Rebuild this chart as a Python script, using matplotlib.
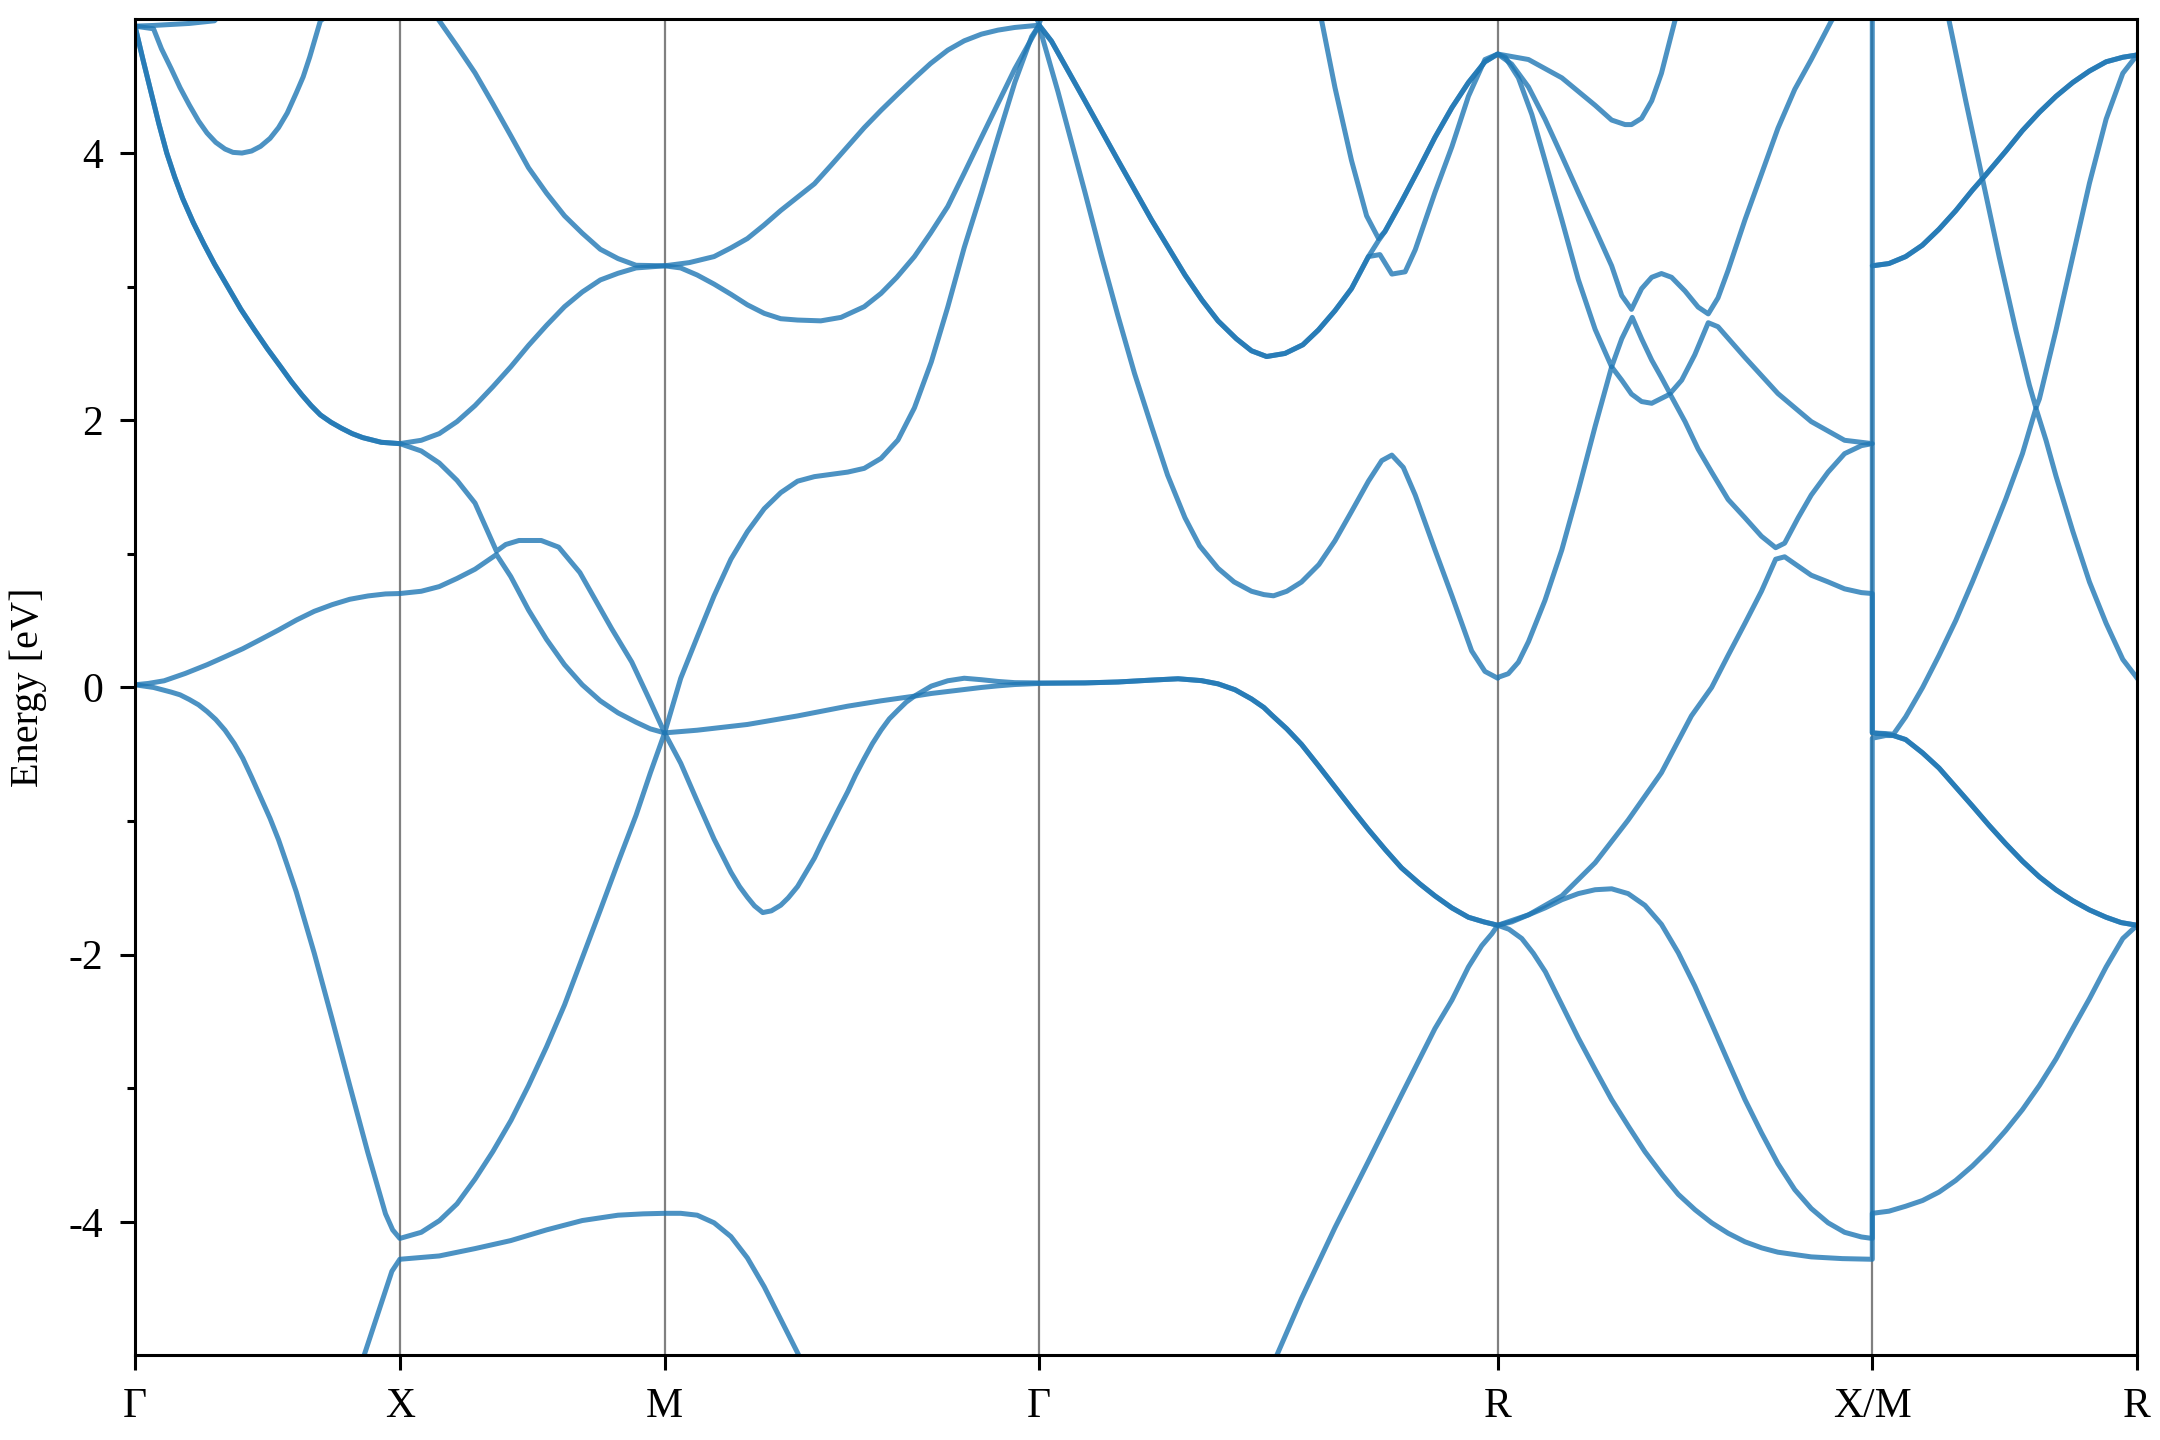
import matplotlib
matplotlib.use("Agg")
import matplotlib.pyplot as plt
import numpy as np

plt.rcParams['font.family'] = ['Liberation Serif', 'DejaVu Serif']
plt.rcParams['axes.unicode_minus'] = False

# k-path of a simple cubic cell (units of 2*pi/a)
kpath_labels = ["Γ", "X", "M", "Γ", "R", "X/M", "R"]
segment_lengths = [0.5, 0.5, 0.7071, 0.8660, 0.7071, 0.5]

# each band: one list of (fraction along segment, energy in eV) per segment
# segments: Γ-X, X-M, M-Γ, Γ-R, R-X, M-R
band_A = [
    [(0, -9.0), (0.70, -6.0), (0.865, -5.0), (0.970, -4.37), (1.0, -4.28)],
    [(0, -4.28), (0.149, -4.255), (0.284, -4.20), (0.419, -4.14), (0.554, -4.06), (0.689, -3.99), (0.824, -3.95), (0.919, -3.94), (1.0, -3.936)],
    [(0, -3.936), (0.043, -3.936), (0.087, -3.95), (0.132, -4.007), (0.177, -4.11), (0.221, -4.27), (0.266, -4.486), (0.31, -4.73), (0.355, -4.98), (0.45, -5.55), (1.0, -8.0)],
    [(0, -8.5), (0.45, -5.55), (0.518, -5.0), (0.572, -4.574), (0.645, -4.043), (0.718, -3.546), (0.79, -3.05), (0.863, -2.553), (0.90, -2.34), (0.936, -2.092), (0.965, -1.933), (0.987, -1.844), (1.0, -1.78)],
    [(0, -1.78), (0.03, -1.81), (0.064, -1.879), (0.095, -1.99), (0.127, -2.128), (0.17, -2.37), (0.215, -2.624), (0.26, -2.86), (0.304, -3.085), (0.35, -3.29), (0.393, -3.475), (0.44, -3.65), (0.482, -3.794), (0.527, -3.91), (0.571, -4.007), (0.615, -4.085), (0.66, -4.149), (0.705, -4.195), (0.748, -4.227), (0.837, -4.262), (0.92, -4.275), (1.0, -4.28)],
    [(0, -3.936), (0.063, -3.92), (0.126, -3.883), (0.19, -3.84), (0.252, -3.777), (0.315, -3.69), (0.378, -3.582), (0.44, -3.46), (0.504, -3.316), (0.567, -3.16), (0.631, -2.979), (0.694, -2.78), (0.757, -2.553), (0.82, -2.33), (0.883, -2.092), (0.946, -1.879), (1.0, -1.78)],
]
band_B = [
    [(0, 0.02), (0.07, 0.0), (0.137, -0.035), (0.17, -0.055), (0.205, -0.09), (0.24, -0.13), (0.272, -0.18), (0.305, -0.24), (0.34, -0.32), (0.375, -0.42), (0.407, -0.53), (0.44, -0.67), (0.474, -0.82), (0.51, -0.98), (0.542, -1.14), (0.575, -1.33), (0.609, -1.53), (0.677, -1.99), (0.744, -2.48), (0.811, -2.98), (0.879, -3.48), (0.946, -3.94), (0.973, -4.06), (1.0, -4.124)],
    [(0, -4.124), (0.081, -4.078), (0.15, -3.99), (0.216, -3.865), (0.284, -3.68), (0.351, -3.475), (0.42, -3.24), (0.486, -2.98), (0.554, -2.69), (0.622, -2.376), (0.69, -2.02), (0.757, -1.667), (0.824, -1.31), (0.892, -0.957), (0.946, -0.64), (1.0, -0.34)],
    [(0, -0.34), (0.043, -0.567), (0.087, -0.851), (0.132, -1.135), (0.177, -1.383), (0.20, -1.49), (0.221, -1.57), (0.24, -1.635), (0.262, -1.685), (0.285, -1.672), (0.31, -1.63), (0.33, -1.575), (0.355, -1.49), (0.40, -1.277), (0.42, -1.16), (0.444, -1.028), (0.465, -0.91), (0.489, -0.78), (0.51, -0.655), (0.533, -0.532), (0.555, -0.42), (0.578, -0.319), (0.60, -0.235), (0.623, -0.17), (0.645, -0.11), (0.667, -0.065), (0.712, -0.045), (0.756, -0.03), (0.80, -0.015), (0.846, 0.0), (0.89, 0.012), (0.935, 0.022), (1.0, 0.03)],
    [(0, 0.03), (0.10, 0.034), (0.172, 0.041), (0.245, 0.055), (0.303, 0.065), (0.354, 0.051), (0.39, 0.027), (0.427, -0.017), (0.463, -0.086), (0.49, -0.15), (0.507, -0.206), (0.54, -0.31), (0.572, -0.426), (0.61, -0.59), (0.645, -0.745), (0.68, -0.90), (0.718, -1.064), (0.755, -1.215), (0.79, -1.35), (0.83, -1.47), (0.863, -1.56), (0.90, -1.65), (0.936, -1.72), (0.97, -1.755), (1.0, -1.78)],
    [(0, -1.78), (0.037, -1.755), (0.082, -1.702), (0.127, -1.649), (0.171, -1.589), (0.215, -1.543), (0.26, -1.514), (0.304, -1.507), (0.348, -1.543), (0.393, -1.631), (0.437, -1.773), (0.482, -1.986), (0.526, -2.234), (0.571, -2.518), (0.615, -2.80), (0.66, -3.085), (0.704, -3.333), (0.748, -3.564), (0.793, -3.759), (0.837, -3.90), (0.882, -4.007), (0.926, -4.078), (0.971, -4.113), (1.0, -4.124)],
    [(0, -0.38), (0.05, -0.36), (0.08, -0.36), (0.126, -0.39), (0.19, -0.49), (0.252, -0.603), (0.315, -0.745), (0.378, -0.887), (0.44, -1.03), (0.504, -1.17), (0.567, -1.30), (0.631, -1.418), (0.694, -1.515), (0.757, -1.596), (0.82, -1.665), (0.883, -1.72), (0.94, -1.76), (1.0, -1.78)],
]
band_C = [
    [(0, 0.02), (0.05, 0.03), (0.11, 0.05), (0.19, 0.105), (0.272, 0.17), (0.34, 0.23), (0.407, 0.29), (0.475, 0.36), (0.542, 0.43), (0.61, 0.505), (0.677, 0.57), (0.745, 0.62), (0.811, 0.66), (0.88, 0.685), (0.946, 0.70), (1.0, 0.703)],
    [(0, 0.703), (0.081, 0.72), (0.149, 0.755), (0.216, 0.816), (0.284, 0.885), (0.365, 0.995), (0.419, 0.83), (0.486, 0.58), (0.554, 0.36), (0.622, 0.17), (0.689, 0.02), (0.757, -0.10), (0.824, -0.19), (0.892, -0.26), (0.946, -0.31), (1.0, -0.34)],
    [(0, -0.34), (0.087, -0.32), (0.221, -0.277), (0.355, -0.213), (0.489, -0.14), (0.578, -0.10), (0.667, -0.065), (0.712, 0.01), (0.756, 0.05), (0.80, 0.069), (0.846, 0.058), (0.89, 0.045), (0.935, 0.036), (1.0, 0.034)],
    [(0, 0.034), (0.10, 0.034), (0.172, 0.041), (0.245, 0.055), (0.303, 0.065), (0.354, 0.051), (0.39, 0.027), (0.427, -0.017), (0.463, -0.086), (0.49, -0.15), (0.507, -0.206), (0.54, -0.31), (0.572, -0.426), (0.61, -0.59), (0.645, -0.745), (0.68, -0.90), (0.718, -1.064), (0.755, -1.215), (0.79, -1.35), (0.83, -1.47), (0.863, -1.56), (0.90, -1.65), (0.936, -1.72), (0.97, -1.755), (1.0, -1.78)],
    [(0, -1.78), (0.082, -1.702), (0.171, -1.56), (0.26, -1.312), (0.348, -0.993), (0.437, -0.638), (0.517, -0.213), (0.571, 0.0), (0.615, 0.24), (0.66, 0.48), (0.704, 0.72), (0.742, 0.96), (0.766, 0.978), (0.837, 0.84), (0.882, 0.79), (0.926, 0.738), (0.971, 0.71), (1.0, 0.703)],
    [(0, -0.34), (0.05, -0.35), (0.08, -0.36), (0.126, -0.39), (0.19, -0.49), (0.252, -0.603), (0.315, -0.745), (0.378, -0.887), (0.44, -1.03), (0.504, -1.17), (0.567, -1.30), (0.631, -1.418), (0.694, -1.515), (0.757, -1.596), (0.82, -1.665), (0.883, -1.72), (0.94, -1.76), (1.0, -1.78)],
]
band_D = [
    [(0, 4.95), (0.03, 4.70), (0.06, 4.46), (0.09, 4.22), (0.12, 4.00), (0.15, 3.82), (0.18, 3.66), (0.22, 3.48), (0.26, 3.32), (0.30, 3.17), (0.35, 3.0), (0.40, 2.83), (0.45, 2.68), (0.50, 2.535), (0.55, 2.40), (0.59, 2.29), (0.63, 2.19), (0.665, 2.11), (0.70, 2.04), (0.74, 1.985), (0.78, 1.94), (0.82, 1.90), (0.86, 1.87), (0.93, 1.835), (1.0, 1.825)],
    [(0, 1.825), (0.081, 1.77), (0.149, 1.68), (0.216, 1.55), (0.284, 1.38), (0.365, 1.02), (0.40, 1.07), (0.45, 1.10), (0.534, 1.10), (0.60, 1.05), (0.68, 0.86), (0.72, 0.72), (0.80, 0.44), (0.876, 0.19), (0.94, -0.08), (1.0, -0.34)],
    [(0, -0.34), (0.043, 0.069), (0.087, 0.377), (0.132, 0.686), (0.177, 0.96), (0.221, 1.166), (0.266, 1.338), (0.31, 1.458), (0.355, 1.544), (0.40, 1.578), (0.444, 1.595), (0.489, 1.612), (0.533, 1.64), (0.578, 1.715), (0.623, 1.852), (0.667, 2.093), (0.712, 2.436), (0.756, 2.847), (0.80, 3.293), (0.846, 3.705), (0.89, 4.117), (0.935, 4.528), (0.98, 4.871), (1.0, 4.957)],
    [(0, 4.95), (0.041, 4.46), (0.10, 3.705), (0.136, 3.23), (0.172, 2.78), (0.208, 2.35), (0.245, 1.955), (0.28, 1.59), (0.318, 1.27), (0.35, 1.06), (0.39, 0.892), (0.425, 0.79), (0.463, 0.72), (0.49, 0.695), (0.511, 0.686), (0.54, 0.72), (0.572, 0.789), (0.61, 0.92), (0.645, 1.098), (0.68, 1.31), (0.718, 1.544), (0.747, 1.698), (0.769, 1.739), (0.794, 1.647), (0.82, 1.44), (0.863, 1.03), (0.90, 0.686), (0.943, 0.274), (0.972, 0.12), (1.0, 0.069)],
    [(0, 0.075), (0.028, 0.103), (0.055, 0.189), (0.082, 0.343), (0.126, 0.652), (0.171, 1.03), (0.215, 1.475), (0.26, 1.955), (0.304, 2.40), (0.331, 2.30), (0.357, 2.196), (0.384, 2.14), (0.411, 2.127), (0.46, 2.196), (0.50, 1.99), (0.535, 1.784), (0.571, 1.612), (0.615, 1.407), (0.66, 1.27), (0.704, 1.132), (0.742, 1.046), (0.766, 1.08), (0.802, 1.27), (0.837, 1.44), (0.882, 1.612), (0.926, 1.75), (0.971, 1.81), (1.0, 1.825)],
    [(0, -0.34), (0.05, -0.345), (0.08, -0.35), (0.126, -0.22), (0.19, 0.0), (0.252, 0.24), (0.315, 0.50), (0.378, 0.79), (0.44, 1.09), (0.504, 1.41), (0.567, 1.75), (0.618, 2.09), (0.656, 1.85), (0.694, 1.58), (0.757, 1.17), (0.82, 0.79), (0.883, 0.48), (0.946, 0.21), (1.0, 0.07)],
]
band_E = [
    [(0, 4.95), (0.03, 4.70), (0.06, 4.46), (0.09, 4.22), (0.12, 4.00), (0.15, 3.82), (0.18, 3.66), (0.22, 3.48), (0.26, 3.32), (0.30, 3.17), (0.35, 3.0), (0.40, 2.83), (0.45, 2.68), (0.50, 2.535), (0.55, 2.40), (0.59, 2.29), (0.63, 2.19), (0.665, 2.11), (0.70, 2.04), (0.74, 1.985), (0.78, 1.94), (0.82, 1.90), (0.86, 1.87), (0.93, 1.835), (1.0, 1.825)],
    [(0, 1.825), (0.081, 1.85), (0.149, 1.90), (0.216, 1.99), (0.284, 2.11), (0.351, 2.25), (0.419, 2.40), (0.486, 2.56), (0.554, 2.71), (0.622, 2.85), (0.689, 2.96), (0.757, 3.05), (0.824, 3.10), (0.892, 3.14), (1.0, 3.156)],
    [(0, 3.156), (0.043, 3.14), (0.087, 3.087), (0.132, 3.019), (0.177, 2.943), (0.221, 2.864), (0.266, 2.80), (0.31, 2.76), (0.355, 2.75), (0.417, 2.744), (0.471, 2.77), (0.533, 2.85), (0.578, 2.95), (0.62, 3.07), (0.667, 3.225), (0.71, 3.40), (0.756, 3.60), (0.80, 3.85), (0.846, 4.117), (0.89, 4.37), (0.935, 4.63), (1.0, 4.957)],
    [(0, 4.957), (0.027, 4.837), (0.10, 4.39), (0.172, 3.945), (0.245, 3.50), (0.318, 3.087), (0.355, 2.90), (0.39, 2.744), (0.43, 2.61), (0.463, 2.52), (0.496, 2.477), (0.536, 2.50), (0.575, 2.565), (0.609, 2.676), (0.645, 2.82), (0.681, 2.985), (0.718, 3.225), (0.743, 3.24), (0.769, 3.094), (0.798, 3.111), (0.82, 3.276), (0.863, 3.705), (0.90, 4.048), (0.936, 4.425), (0.972, 4.70), (1.0, 4.741)],
    [(0, 4.741), (0.02, 4.717), (0.055, 4.563), (0.091, 4.288), (0.126, 3.945), (0.171, 3.50), (0.215, 3.053), (0.26, 2.68), (0.304, 2.40), (0.331, 2.61), (0.359, 2.77), (0.384, 2.61), (0.411, 2.45), (0.437, 2.32), (0.46, 2.20), (0.491, 2.30), (0.526, 2.49), (0.562, 2.73), (0.588, 2.70), (0.66, 2.47), (0.748, 2.20), (0.837, 1.99), (0.926, 1.85), (1.0, 1.825)],
    [(0, 3.156), (0.063, 3.173), (0.126, 3.225), (0.189, 3.31), (0.252, 3.43), (0.315, 3.568), (0.378, 3.722), (0.416, 3.808), (0.479, 3.225), (0.542, 2.676), (0.593, 2.264), (0.618, 2.093), (0.631, 2.16), (0.694, 2.676), (0.757, 3.225), (0.82, 3.774), (0.883, 4.254), (0.946, 4.597), (1.0, 4.734)],
]
band_F = [
    [(0, 4.95), (0.07, 4.93), (0.10, 4.78), (0.137, 4.63), (0.17, 4.49), (0.205, 4.36), (0.24, 4.24), (0.272, 4.15), (0.305, 4.08), (0.34, 4.03), (0.37, 4.005), (0.404, 4.0), (0.44, 4.015), (0.474, 4.05), (0.51, 4.11), (0.542, 4.19), (0.575, 4.30), (0.609, 4.45), (0.635, 4.57), (0.66, 4.72), (0.70, 4.99), (1.0, 5.4)],
    [(0, 5.4), (0.149, 4.99), (0.216, 4.80), (0.284, 4.60), (0.351, 4.37), (0.419, 4.13), (0.486, 3.89), (0.554, 3.70), (0.622, 3.53), (0.689, 3.40), (0.757, 3.28), (0.824, 3.21), (0.892, 3.16), (1.0, 3.156)],
    [(0, 3.156), (0.066, 3.18), (0.132, 3.225), (0.177, 3.29), (0.221, 3.36), (0.265, 3.46), (0.31, 3.57), (0.355, 3.67), (0.40, 3.77), (0.445, 3.91), (0.489, 4.05), (0.533, 4.19), (0.578, 4.32), (0.622, 4.44), (0.667, 4.56), (0.71, 4.67), (0.756, 4.77), (0.80, 4.84), (0.846, 4.89), (0.89, 4.92), (0.935, 4.94), (1.0, 4.957)],
    [(0, 4.957), (0.027, 4.837), (0.10, 4.39), (0.172, 3.945), (0.245, 3.50), (0.318, 3.087), (0.355, 2.90), (0.39, 2.744), (0.43, 2.61), (0.463, 2.52), (0.496, 2.477), (0.536, 2.50), (0.575, 2.565), (0.609, 2.676), (0.645, 2.82), (0.681, 2.985), (0.718, 3.225), (0.74, 3.345), (0.754, 3.413), (0.79, 3.636), (0.827, 3.876), (0.863, 4.117), (0.90, 4.34), (0.936, 4.528), (0.972, 4.683), (1.0, 4.741)],
    [(0, 4.741), (0.037, 4.666), (0.082, 4.494), (0.126, 4.254), (0.171, 3.979), (0.215, 3.705), (0.26, 3.43), (0.304, 3.156), (0.331, 2.933), (0.357, 2.83), (0.384, 2.985), (0.411, 3.07), (0.437, 3.098), (0.464, 3.07), (0.50, 2.967), (0.535, 2.847), (0.562, 2.796), (0.588, 2.916), (0.615, 3.122), (0.66, 3.50), (0.704, 3.842), (0.748, 4.185), (0.793, 4.477), (0.837, 4.70), (0.891, 4.99), (1.0, 5.4)],
    [(0, 3.156), (0.063, 3.173), (0.126, 3.225), (0.189, 3.31), (0.252, 3.43), (0.315, 3.568), (0.378, 3.722), (0.416, 3.808), (0.504, 4.014), (0.567, 4.168), (0.631, 4.305), (0.694, 4.425), (0.757, 4.528), (0.82, 4.614), (0.883, 4.683), (0.946, 4.717), (1.0, 4.734)],
]
band_G = [
    [(0, 4.95), (0.07, 4.955), (0.205, 4.97), (0.30, 4.99), (0.5, 5.4), (1.0, 6.0)],
    [(0, 6.0), (1.0, 6.0)],
    [(0, 6.0), (0.9, 5.5), (1.0, 4.97)],
    [(0, 4.97), (0.05, 5.4), (0.3, 6.0), (0.58, 5.6), (0.616, 4.99), (0.645, 4.49), (0.681, 3.945), (0.714, 3.53), (0.74, 3.36), (0.754, 3.413), (0.79, 3.636), (0.827, 3.876), (0.863, 4.117), (0.90, 4.34), (0.936, 4.528), (0.972, 4.683), (1.0, 4.741)],
    [(0, 4.741), (0.082, 4.70), (0.171, 4.563), (0.26, 4.357), (0.304, 4.247), (0.34, 4.213), (0.357, 4.213), (0.384, 4.26), (0.411, 4.391), (0.437, 4.597), (0.473, 4.991), (0.6, 5.6), (1.0, 6.0)],
    [(0, 6.5), (0.2, 5.85), (0.29, 4.99), (0.353, 4.39), (0.416, 3.808), (0.504, 4.014), (0.567, 4.168), (0.631, 4.305), (0.694, 4.425), (0.757, 4.528), (0.82, 4.614), (0.883, 4.683), (0.946, 4.717), (1.0, 4.734)],
]
bands = [band_A, band_B, band_C, band_D, band_E, band_F, band_G]

kpoints = np.concatenate([[0], np.cumsum(segment_lengths)])

fig = plt.figure(figsize=(10.8, 7.2), dpi=200)
ax = fig.add_axes([0.0625, 0.0587, 0.9269, 0.9278])

for kp in kpoints[1:-1]:
    ax.axvline(kp, color='grey', lw=0.8, zorder=0)

for band in bands:
    k_all, e_all = [], []
    for i, seg in enumerate(band):
        t, e = zip(*seg)
        k_all.extend(kpoints[i] + np.array(t) * segment_lengths[i])
        e_all.extend(e)
    ax.plot(k_all, e_all, color='#1f77b4', alpha=0.8, lw=1.8)

ax.set_xlim(kpoints[0], kpoints[-1])
ax.set_ylim(-5, 5)
ax.set_xticks(kpoints)
ax.set_xticklabels(kpath_labels)
ax.set_yticks([-4, -2, 0, 2, 4])
ax.set_yticks([-3, -1, 1, 3], minor=True)
ax.set_ylabel("Energy [eV]", fontsize=14.5)
ax.yaxis.set_label_coords(-0.044, 0.5)
ax.tick_params(axis='both', which='major', labelsize=15, length=5.5, width=1.1, pad=6)
ax.tick_params(axis='y', which='minor', length=3, width=1.1)
for s in ax.spines.values():
    s.set_linewidth(1.1)

fig.savefig("out.png", dpi=200)
